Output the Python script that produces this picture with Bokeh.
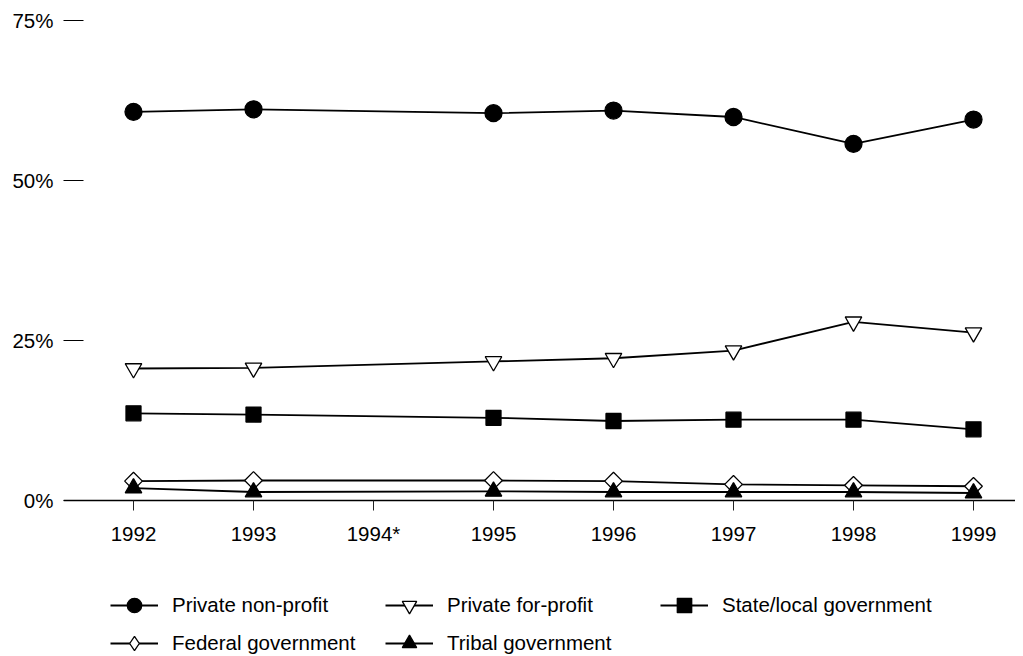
import numpy as np
from bokeh.plotting import figure
from bokeh.models import FixedTicker, Legend, LegendItem, Range1d
from bokeh.embed import file_html
from bokeh.resources import INLINE

years = [1992, 1993, 1995, 1996, 1997, 1998, 1999]
non_profit = [60.8, 61.2, 60.6, 61.0, 60.0, 55.8, 59.6]
for_profit = [20.7, 20.8, 21.8, 22.3, 23.5, 28.0, 26.3]
state_local = [13.7, 13.5, 13.0, 12.5, 12.7, 12.7, 11.2]
federal = [3.1, 3.2, 3.2, 3.1, 2.6, 2.45, 2.3]
tribal = [2.0, 1.4, 1.5, 1.4, 1.4, 1.4, 1.25]

tick_years = [1992, 1993, 1994, 1995, 1996, 1997, 1998, 1999]
tick_year_labels = ["1992", "1993", "1994*", "1995", "1996", "1997", "1998", "1999"]
y_ticks = [0, 25, 50, 75]
y_tick_labels = ["0%", "25%", "50%", "75%"]

FONT = "Liberation Sans"
FS = "20.5px"

p = figure(width=1015, height=656, output_backend="svg", toolbar_location=None,
           x_range=Range1d(1991.4167, 1999.35), y_range=Range1d(-24.3, 76.17),
           min_border_left=63, min_border_right=0, min_border_top=13, min_border_bottom=0)
p.outline_line_color = None
p.xgrid.visible = False
p.ygrid.visible = False
p.background_fill_color = "white"

# axes
xa = p.xaxis[0]
xa.fixed_location = 0
xa.ticker = FixedTicker(ticks=tick_years)
xa.major_label_overrides = {y: l for y, l in zip(tick_years, tick_year_labels)}
xa.axis_line_width = 1.6
xa.axis_line_color = "black"
xa.major_tick_out = 10
xa.major_tick_in = 0
xa.major_tick_line_color = "#222222"
xa.minor_tick_line_color = None
xa.major_label_standoff = 11
xa.major_label_text_font = FONT
xa.major_label_text_font_size = FS
xa.major_label_text_color = "black"

ya = p.yaxis[0]
ya.ticker = FixedTicker(ticks=y_ticks)
ya.major_label_overrides = {v: l for v, l in zip(y_ticks, y_tick_labels)}
ya.axis_line_color = None
ya.major_tick_in = 20
ya.major_tick_out = 0
ya.major_tick_line_color = "black"
ya.major_tick_line_width = 1
ya.minor_tick_line_color = None
ya.major_label_standoff = 10
ya.major_label_text_font = FONT
ya.major_label_text_font_size = FS
ya.major_label_text_color = "black"

LW = 1.8
series = [
    ("Private non-profit", non_profit, "circle", 17, "black", 0, "circle"),
    ("Private for-profit", for_profit, "inverted_triangle", 16.5, "white", 0, "inverted_triangle"),
    ("State/local government", state_local, "square", 15, "black", 0, "square"),
    ("Federal government", federal, "square", 12.5, "white", np.pi / 4, "diamond"),
    ("Tribal government", tribal, "triangle", 16.5, "black", 0, "triangle"),
]

items = []
for label, vals, marker, size, fill, ang, leg_marker in series:
    ln = p.line(years, vals, line_color="black", line_width=LW)
    sc = p.scatter(years, vals, marker=marker, size=size, fill_color=fill,
                   line_color="black", line_width=1.3, angle=ang)
    if leg_marker != marker:
        # legend-only glyph (legend glyphs are drawn unrotated); hidden on the plot
        leg = p.scatter(years, vals, marker=leg_marker, size=size, fill_color=fill,
                        line_color="black", line_width=1.3, visible=False)
        items.append(LegendItem(label=label, renderers=[ln, leg]))
    else:
        items.append(LegendItem(label=label, renderers=[ln, sc]))

legend = Legend(items=items, location=(47, -5), orientation="horizontal", ncols=3,
                glyph_width=48, glyph_height=36, label_height=20, label_width=211,
                label_standoff=14, spacing=2, padding=0, margin=0,
                border_line_color=None, background_fill_alpha=0,
                label_text_font=FONT, label_text_font_size=FS, label_text_color="black")
p.add_layout(legend, "center")

open("out.html", "w").write(file_html(p, INLINE))
